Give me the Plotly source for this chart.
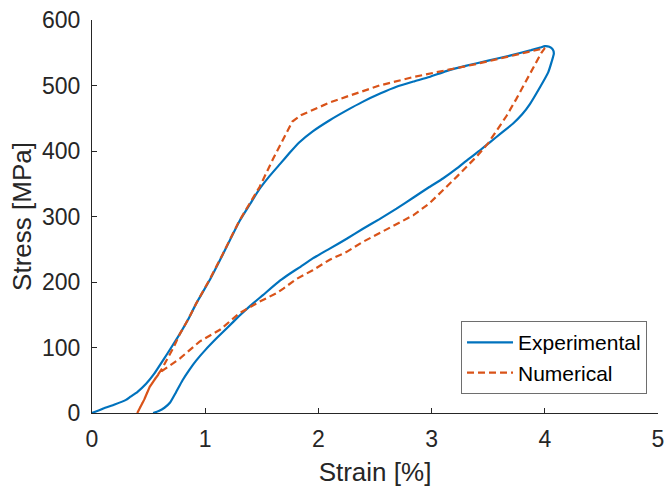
import plotly.graph_objects as go

# Experimental stress-strain loop (loading branch followed by unloading branch)
exp_strain = [0.00, 0.10, 0.20, 0.30, 0.34, 0.40, 0.48, 0.55, 0.63, 0.70, 0.78, 0.85,
              0.92, 1.04, 1.15, 1.30, 1.40, 1.48, 1.57, 1.66, 1.75, 1.83, 1.95, 2.10,
              2.25, 2.39, 2.55, 2.69, 2.84, 2.98, 3.13, 3.30, 3.50, 3.70, 3.88, 3.96,
              4.00, 4.04, 4.07, 4.08, 4.06, 4.03, 3.96, 3.87, 3.80, 3.72, 3.62, 3.52,
              3.42, 3.32, 3.22, 3.10, 2.98, 2.84, 2.69, 2.54, 2.39, 2.25, 2.10, 1.95,
              1.83, 1.75, 1.66, 1.51, 1.40, 1.30, 1.20, 1.10, 1.00, 0.92, 0.86, 0.80,
              0.74, 0.69, 0.64, 0.59, 0.54]
exp_stress = [0, 7, 13, 20, 25, 32, 45, 60, 81, 100, 122, 143,
              167, 203, 240, 292, 320, 342, 362, 380, 398, 413, 430, 447,
              462, 475, 488, 498, 506, 513, 522, 530, 538, 546, 554, 558,
              560, 559, 555, 549, 536, 520, 498, 472, 456, 442, 428, 414,
              400, 387, 373, 358, 345, 329, 312, 296, 281, 266, 251, 236,
              222, 213, 202, 180, 164, 148, 131, 114, 96, 80, 66, 50,
              31, 16, 8, 3, 0]

# Numerical model loop (loading, then unloading back to the residual strain)
num_strain = [0.40, 0.46, 0.51, 0.57, 0.62, 0.66, 0.72, 0.78, 0.85, 0.92, 1.04, 1.15,
              1.30, 1.40, 1.48, 1.60, 1.70, 1.77, 1.85, 1.95, 2.10, 2.25, 2.54, 2.84,
              3.13, 3.40, 3.70, 3.90, 4.00, 3.97, 3.93, 3.84, 3.75, 3.66, 3.58, 3.50,
              3.40, 3.30, 3.23, 3.10, 2.98, 2.84, 2.69, 2.54, 2.39, 2.25, 2.10, 1.95,
              1.81, 1.69, 1.63, 1.48, 1.30, 1.13, 0.95, 0.775, 0.66, 0.60, 0.57, 0.51,
              0.46, 0.40]
num_stress = [0, 20, 40, 55, 68, 81, 100, 122, 143, 167, 204, 241,
              293, 322, 345, 388, 423, 445, 455, 463, 474, 483, 500, 513,
              523, 533, 545, 553, 557, 550, 537, 507, 480, 453, 432, 412,
              392, 374, 362, 340, 320, 302, 288, 274, 261, 246, 234, 218,
              205, 190, 183, 170, 152, 127, 109, 83, 70, 62, 55, 40,
              20, 0]

x_ticks = [0, 1, 2, 3, 4, 5]
y_ticks = [0, 100, 200, 300, 400, 500, 600]

BLUE = "#0072BD"
ORANGE = "#D95319"
INK = "#262626"
FONT = "Liberation Sans, Arial, Helvetica, sans-serif"

fig = go.Figure()
fig.add_trace(go.Scatter(
    x=exp_strain, y=exp_stress, mode="lines", name="Experimental",
    line=dict(color=BLUE, width=2.2, shape="spline", smoothing=0.4),
))
fig.add_trace(go.Scatter(
    x=num_strain, y=num_stress, mode="lines", name="Numerical",
    line=dict(color=ORANGE, width=2.2, dash="7px,4px"),
))

axis_common = dict(
    showline=True, linecolor=INK, linewidth=1,
    ticks="inside", ticklen=5, tickwidth=1, tickcolor=INK,
    showgrid=False, zeroline=False, automargin=False,
    tickfont=dict(family=FONT, size=23, color=INK),
    mirror=False,
)

fig.update_xaxes(
    range=[0, 5], tickvals=x_ticks,
    ticklabelstandoff=5,
    title=dict(text="Strain [%]", font=dict(family=FONT, size=26, color=INK), standoff=24),
    **axis_common,
)
fig.update_yaxes(
    range=[0, 600], tickvals=y_ticks,
    ticklabelstandoff=6,
    title=dict(text="Stress [MPa]", font=dict(family=FONT, size=26, color=INK), standoff=2),
    **axis_common,
)

fig.update_layout(
    width=666, height=487,
    margin=dict(l=92, r=8, t=20, b=74, autoexpand=False),
    paper_bgcolor="white", plot_bgcolor="white",
    showlegend=True,
    legend=dict(
        x=0.9806, y=0.048, xanchor="right", yanchor="bottom",
        bgcolor="white", bordercolor="#6e6e6e", borderwidth=1,
        font=dict(family=FONT, size=21, color="black"),
        tracegroupgap=0, itemwidth=46,
    ),
)

fig.write_html("out.html")
